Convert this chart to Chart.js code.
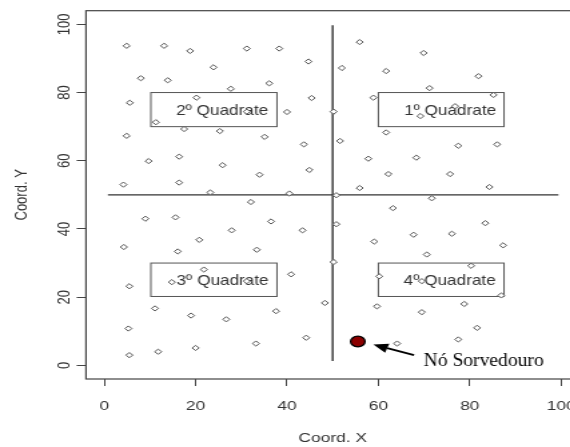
<!DOCTYPE html>
<html>
<head>
<meta charset="utf-8">
<script src="https://cdn.jsdelivr.net/npm/chart.js@4.4.0/dist/chart.umd.min.js"></script>
<style>
  html, body { margin: 0; padding: 0; background: #fff; overflow: hidden; }
  #wrap { width: 570px; height: 447px; overflow: hidden; }
  /* the original figure is stretched sideways, so is ours */
  #chart { transform: scaleX(1.335); transform-origin: 0 0; }
</style>
</head>
<body>
<div id="wrap"><canvas id="chart" width="434" height="447"></canvas></div>
<script>
// --- Data ---
const nodeX = [
  4.9, 13.1, 18.8, 31.2, 38.3, 44.7, 23.9, 8.0, 13.9, 27.7, 36.1, 5.6, 20.2, 45.4, 40.0, 11.3,
  17.5, 25.3, 4.9, 35.1, 43.7, 9.7, 16.4, 25.9, 34.0, 44.9, 4.2, 16.4, 23.2, 40.5, 31.2,
  55.9, 69.9, 52.0, 61.7, 81.9, 71.2, 58.9, 85.2, 50.2, 76.8, 69.2, 61.7, 51.6, 77.5, 86.0,
  57.8, 68.3, 62.2, 75.7, 55.9, 84.3, 50.8, 71.7,
  32.1, 9.0, 15.6, 36.5, 27.9, 43.4, 20.8, 4.3, 16.1, 33.4, 21.8, 40.9, 5.5, 14.8, 48.3,
  11.1, 19.0, 26.7, 37.6, 5.3, 44.2, 33.2, 20.0, 11.8, 5.5, 31.2,
  50.8, 50.2, 63.2, 83.4, 59.1, 67.7, 76.1, 87.3, 70.6, 80.3, 60.2, 86.9, 59.7, 69.5, 78.8,
  81.6, 77.5, 64.1, 69.5
];
const nodeY = [
  93.7, 93.7, 92.2, 92.9, 92.9, 89.1, 87.4, 84.2, 83.6, 81.1, 82.7, 77.0, 78.5, 78.4, 74.3, 71.3,
  69.3, 68.7, 67.3, 67.0, 64.8, 59.9, 61.2, 58.7, 55.9, 57.3, 53.0, 53.6, 50.7, 50.4, 74.4,
  94.8, 91.6, 87.2, 86.3, 84.8, 81.3, 78.5, 79.3, 74.4, 76.0, 73.1, 68.3, 65.8, 64.4, 64.8,
  60.6, 60.9, 56.1, 56.1, 52.0, 52.3, 49.9, 49.0,
  47.9, 43.0, 43.4, 42.2, 39.6, 39.6, 36.8, 34.7, 33.4, 33.9, 28.1, 26.7, 23.2, 24.4, 18.3,
  16.7, 14.6, 13.5, 15.9, 10.8, 8.1, 6.4, 5.1, 4.0, 3.0, 24.7,
  41.4, 30.3, 46.1, 41.7, 36.3, 38.3, 38.6, 35.2, 32.5, 29.2, 26.1, 20.5, 17.3, 15.6, 18.0,
  11.0, 7.6, 6.4, 24.7
];
const sinkX = [55.5];
const sinkY = [7.0];

const hLineX = [0.8, 99.4];
const hLineY = [50, 50];
const vLineX = [50, 50];
const vLineY = [1.3, 99.7];

const xTicks = [0, 20, 40, 60, 80, 100];
const yTicks = [0, 20, 40, 60, 80, 100];

const quadLabels = ['1º Quadrate', '2º Quadrate', '3º Quadrate', '4º Quadrate'];
const boxX0 = [60, 10.2, 10.2, 60];
const boxX1 = [87.5, 37.8, 37.8, 87.5];
const boxY0 = [70, 70, 20.2, 20.2];
const boxY1 = [80, 80, 30, 30];
const labelX = [75.7, 25.8, 25.9, 75.6];
const labelY = [74.6, 74.6, 24.8, 24.8];

const sinkLabel = 'Nó Sorvedouro';
const sinkLabelAt = [69.9, -0.2];
const arrowFrom = [67.8, 3.0];
const arrowTo = [58.9, 6.1];

const SANS = '"Liberation Sans", Arial, sans-serif';
Chart.defaults.font.family = SANS;
Chart.defaults.color = '#333';

// --- Plugins ---
const frameAndBoxes = {
    id: 'frameAndBoxes',
    beforeDatasetsDraw(chart) {
        const { ctx, chartArea: a } = chart;
        const xs = chart.scales.x, ys = chart.scales.y;
        ctx.save();
        ctx.strokeStyle = '#444';
        ctx.lineWidth = 1.2;
        ctx.strokeRect(a.left, a.top, a.right - a.left, a.bottom - a.top);

        ctx.strokeStyle = '#555';
        ctx.lineWidth = 1;
        ctx.fillStyle = '#333';
        ctx.font = '15px ' + SANS;
        ctx.textAlign = 'center';
        ctx.textBaseline = 'middle';
        quadLabels.forEach((t, i) => {
            const x0 = xs.getPixelForValue(boxX0[i]);
            const x1 = xs.getPixelForValue(boxX1[i]);
            const y0 = ys.getPixelForValue(boxY1[i]);
            const y1 = ys.getPixelForValue(boxY0[i]);
            ctx.strokeRect(x0, y0, x1 - x0, y1 - y0);
            ctx.fillText(t, xs.getPixelForValue(labelX[i]), ys.getPixelForValue(labelY[i]), 69);
        });
        ctx.restore();
    },
    afterDatasetsDraw(chart) {
        const { ctx } = chart;
        const xs = chart.scales.x, ys = chart.scales.y;
        ctx.save();
        // arrow to the sink node
        const fx = xs.getPixelForValue(arrowFrom[0]), fy = ys.getPixelForValue(arrowFrom[1]);
        const tx = xs.getPixelForValue(arrowTo[0]), ty = ys.getPixelForValue(arrowTo[1]);
        const ang = Math.atan2(ty - fy, tx - fx);
        const headLen = 11, headW = 4.8;
        const bx = tx - Math.cos(ang) * headLen, by = ty - Math.sin(ang) * headLen;
        ctx.strokeStyle = '#000';
        ctx.fillStyle = '#000';
        ctx.lineWidth = 1.8;
        ctx.beginPath();
        ctx.moveTo(fx, fy);
        ctx.lineTo(bx, by);
        ctx.stroke();
        ctx.beginPath();
        ctx.moveTo(tx, ty);
        ctx.lineTo(bx + Math.sin(ang) * headW, by - Math.cos(ang) * headW);
        ctx.lineTo(bx - Math.sin(ang) * headW, by + Math.cos(ang) * headW);
        ctx.closePath();
        ctx.fill();

        ctx.font = '18px "Liberation Serif", "Times New Roman", serif';
        ctx.textAlign = 'left';
        ctx.textBaseline = 'alphabetic';
        ctx.fillText(sinkLabel, xs.getPixelForValue(sinkLabelAt[0]), ys.getPixelForValue(sinkLabelAt[1]), 90);
        ctx.restore();
    },
    afterDraw(chart) {
        // y tick labels run along the axis, as in R
        const { ctx, chartArea: a } = chart;
        const ys = chart.scales.y;
        ctx.save();
        ctx.font = '13px ' + SANS;
        ctx.fillStyle = '#333';
        ctx.textAlign = 'center';
        ctx.textBaseline = 'middle';
        yTicks.forEach(v => {
            ctx.save();
            ctx.translate(a.left - 16.4, ys.getPixelForValue(v));
            ctx.rotate(-Math.PI / 2);
            ctx.fillText(String(v), 0, 0);
            ctx.restore();
        });
        ctx.restore();
    }
};

// --- Chart ---
new Chart(document.getElementById('chart'), {
    type: 'scatter',
    data: {
        datasets: [
            {
                label: 'Nó Sorvedouro',
                data: sinkX.map((x, i) => ({ x, y: sinkY[i] })),
                pointRadius: 5.4,
                pointBackgroundColor: '#8b0000',
                pointBorderColor: '#000',
                pointBorderWidth: 1.3
            },
            {
                label: 'Nós',
                data: nodeX.map((x, i) => ({ x, y: nodeY[i] })),
                pointStyle: 'rectRot',
                pointRadius: 2.6,
                pointBackgroundColor: '#fff',
                pointBorderColor: '#555',
                pointBorderWidth: 1
            },
            {
                label: 'h',
                data: hLineX.map((x, i) => ({ x, y: hLineY[i] })),
                showLine: true,
                pointRadius: 0,
                borderColor: '#333',
                borderWidth: 1.4
            },
            {
                label: 'v',
                data: vLineX.map((x, i) => ({ x, y: vLineY[i] })),
                showLine: true,
                pointRadius: 0,
                borderColor: '#333',
                borderWidth: 1.4
            }
        ]
    },
    options: {
        responsive: false,
        animation: false,
        layout: { autoPadding: false, padding: { top: 10.7, right: 0, bottom: 0, left: 0 } },
        plugins: { legend: { display: false }, tooltip: { enabled: false } },
        scales: {
            x: {
                type: 'linear',
                min: -4,
                max: 104,
                afterBuildTicks: s => { s.ticks = xTicks.map(v => ({ value: v })); },
                afterFit: s => { s.height = 68; s.paddingLeft = 0; s.paddingRight = 0; },
                border: { display: false },
                grid: { drawOnChartArea: false, drawTicks: true, tickLength: 7, color: '#444', lineWidth: 1 },
                ticks: { font: { size: 13 }, color: '#333', padding: 13, maxRotation: 0 },
                title: { display: true, text: 'Coord. X', font: { size: 13 }, color: '#333', padding: { top: 0, bottom: 1.2 } }
            },
            y: {
                type: 'linear',
                min: -4,
                max: 104,
                afterBuildTicks: s => { s.ticks = yTicks.map(v => ({ value: v })); },
                afterFit: s => { s.width = 64.4; s.paddingTop = 0; s.paddingBottom = 0; },
                border: { display: false },
                grid: { drawOnChartArea: false, drawTicks: true, tickLength: 7, color: '#444', lineWidth: 1 },
                ticks: { display: false },
                title: { display: true, text: 'Coord. Y', font: { size: 13 }, color: '#333', padding: { top: 8.4, bottom: 0 } }
            }
        }
    },
    plugins: [frameAndBoxes]
});
</script>
</body>
</html>
